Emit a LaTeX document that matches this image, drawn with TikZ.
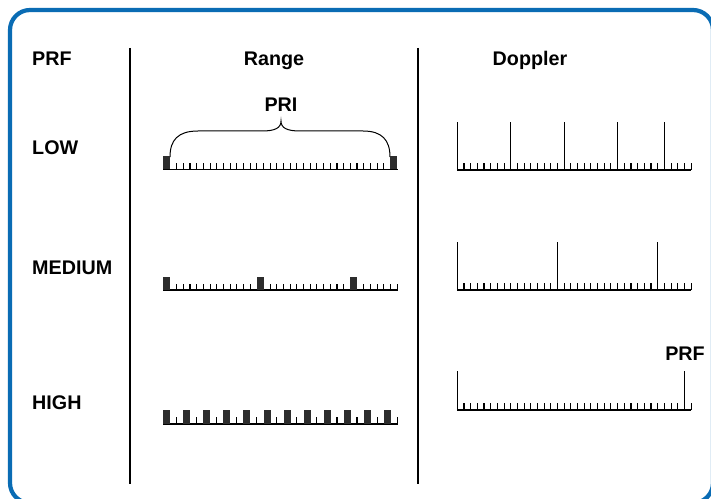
\documentclass[tikz,border=0pt]{standalone}
\usepackage{fontspec}
\setmainfont{Liberation Sans}
\definecolor{frameblue}{RGB}{10,108,180}
\definecolor{blockgray}{RGB}{45,45,45}
\begin{document}
\begin{tikzpicture}[x=1bp,y=-1bp,
  lbl/.style={inner sep=0pt,font=\bfseries\fontsize{19.8}{23}\selectfont},
  divider/.style={line width=2.6bp,black},
  base/.style={line width=1.3bp,black},
  tick/.style={line width=1.1bp,black},
  tall/.style={line width=1.2bp,black},
  blk/.style={fill=blockgray,draw=none}]
\useasboundingbox (0,0) rectangle (711,499);
\fill[white] (0,0) rectangle (711,499);
\draw[frameblue,line width=4.2bp,rounded corners=20bp] (10,10) rectangle (713,503);
% dividers
\coordinate (d1t) at (130,48); \coordinate (d1b) at (130,484);
\coordinate (d2t) at (418,48); \coordinate (d2b) at (418,484);
\draw[divider] (d1t) -- (d1b);
\draw[divider] (d2t) -- (d2b);
% labels
\node[lbl,anchor=base west] (hprf) at (32,66) {PRF};
\node[lbl,anchor=base] (hrange) at (274,66) {Range};
\node[lbl,anchor=base] (hdop) at (530,66) {Doppler};
\node[lbl,anchor=base] (pri) at (281,112) {PRI};
\node[lbl,anchor=base west] (low) at (32,155) {LOW};
\node[lbl,anchor=base west] (med) at (32,275) {MEDIUM};
\node[lbl,anchor=base west] (high) at (32,409) {HIGH};
\node[lbl,anchor=base] (dprf) at (685,360) {PRF};
% brace
\draw[line width=1bp] (170,157) .. controls (170,140) and (178,131) .. (198,131) -- (262,131)
  .. controls (275,131) and (281,128) .. (281,121)
  .. controls (281,128) and (287,131) .. (300,131) -- (363,131)
  .. controls (382,131) and (390,140) .. (390,157);
\def\u{6.68}
\def\xr{163.3}
% Range LOW
\draw[base] (\xr,169.5) -- (398,169.5);
\foreach \k in {0,34} \fill[blk] (\xr+\k*\u,156.5) rectangle ++(7,13);
\foreach \k in {2,...,33} \draw[tick] (\xr+\k*\u,169.5) -- ++(0,-6.5);
% Range MEDIUM
\draw[base] (\xr,290) -- (398,290);
\foreach \k in {0,14,28} \fill[blk] (\xr+\k*\u,277) rectangle ++(7,13);
\foreach \k in {2,...,13,16,17,...,27,30,31,...,35} \draw[tick] (\xr+\k*\u,290) -- ++(0,-6.5);
% Range HIGH
\draw[base] (\xr,424) -- (398,424);
\foreach \k in {0,...,11} {
  \fill[blk] (\xr+3*\k*\u,410) rectangle ++(7,14);
  \draw[tick] (\xr+3*\k*\u+2*\u,424) -- ++(0,-7.5);
}
\def\xd{457.3}
% Doppler LOW
\draw[base] (\xd,170) -- (691,170);
\foreach \k in {1,...,35} \draw[tick] (\xd+\k*\u,170) -- ++(0,-7);
\foreach \k in {0,8,16,24,31} \draw[tall] (\xd+\k*\u,170) -- (\xd+\k*\u,122.5);
% Doppler MEDIUM
\draw[base] (\xd,290) -- (691,290);
\foreach \k in {1,...,35} \draw[tick] (\xd+\k*\u,290) -- ++(0,-7);
\foreach \k in {0,15,30} \draw[tall] (\xd+\k*\u,290) -- (\xd+\k*\u,242.5);
% Doppler HIGH
\draw[base] (\xd,410) -- (691,410);
\foreach \k in {1,...,35} \draw[tick] (\xd+\k*\u,410) -- ++(0,-7);
\foreach \k in {0,34} \draw[tall] (\xd+\k*\u,410) -- (\xd+\k*\u,370.5);
\end{tikzpicture}
\end{document}
